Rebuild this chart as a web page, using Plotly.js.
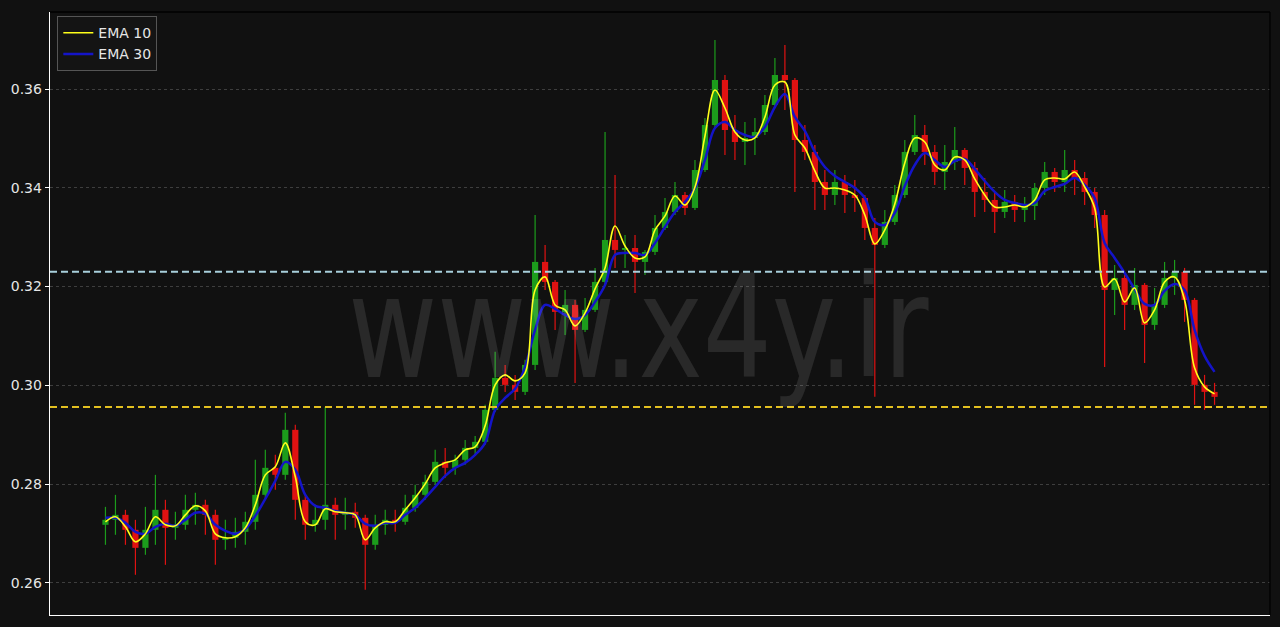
<!DOCTYPE html>
<html><head><meta charset="utf-8">
<script src="https://cdn.plot.ly/plotly-3.0.1.min.js"></script>
<style>html,body{margin:0;padding:0;background:#111111;} #chart{width:1280px;height:627px;}</style>
</head><body><div id="chart"></div>
<script>
const openP = [
0.27176,0.27277,0.27378,0.27075,0.26710,0.27075,0.27480,0.27115,0.27176,0.27480,
0.27581,0.27378,0.26872,0.26913,0.27034,0.27237,0.27783,0.28330,0.28188,0.29099,
0.27682,0.27176,0.27277,0.27581,0.27378,0.27439,0.27318,0.26771,0.27176,0.27277,
0.27237,0.27520,0.27783,0.28046,0.28451,0.28330,0.28492,0.28734,0.28856,0.29504,
0.30151,0.30010,0.29868,0.30414,0.32499,0.32094,0.31487,0.31629,0.31123,0.31528,
0.32094,0.32944,0.32742,0.32782,0.32499,0.32702,0.33187,0.33511,0.33855,0.33592,
0.34361,0.35272,0.36183,0.35171,0.34928,0.35009,0.35130,0.35677,0.36284,0.36183,
0.34968,0.34726,0.34118,0.33855,0.34118,0.33855,0.33794,0.33187,0.32843,0.33309,
0.33855,0.34726,0.35070,0.34726,0.34321,0.34523,0.34766,0.34402,0.33916,0.33754,
0.33511,0.33714,0.33552,0.33633,0.33997,0.34321,0.34118,0.34361,0.34199,0.33916,
0.33450,0.31932,0.32175,0.31629,0.32034,0.31224,0.31629,0.32175,0.32297,0.31730,
0.30010,0.29868];
const highP = [
0.27540,0.27783,0.27480,0.27277,0.27540,0.28188,0.27682,0.27439,0.27783,0.27824,
0.27682,0.27480,0.27277,0.27318,0.27439,0.28492,0.28694,0.28593,0.29443,0.29200,
0.27783,0.27581,0.29564,0.27722,0.27722,0.27621,0.27378,0.27378,0.27480,0.27480,
0.27783,0.27986,0.28188,0.28694,0.28734,0.28593,0.28896,0.28977,0.29605,0.30678,
0.30414,0.30212,0.30516,0.33450,0.32843,0.32135,0.31932,0.31730,0.31770,0.32378,
0.35130,0.34260,0.33046,0.33046,0.32742,0.33450,0.33794,0.34118,0.33916,0.34564,
0.35414,0.36992,0.36284,0.35474,0.35333,0.35414,0.35879,0.36628,0.36891,0.36223,
0.35272,0.34867,0.34361,0.34361,0.34260,0.34159,0.33855,0.33390,0.33552,0.34058,
0.34968,0.35474,0.35272,0.34867,0.34867,0.35232,0.34806,0.34523,0.34199,0.33896,
0.33956,0.33855,0.33815,0.34098,0.34523,0.34402,0.34766,0.34564,0.34321,0.33997,
0.33552,0.32438,0.32236,0.32378,0.32074,0.31973,0.32499,0.32540,0.32378,0.31770,
0.30212,0.30050];
const lowP = [
0.26771,0.26974,0.26771,0.26164,0.26569,0.26771,0.26366,0.26872,0.27075,0.27176,
0.26974,0.26366,0.26670,0.26710,0.26771,0.27075,0.27682,0.27884,0.28087,0.27277,
0.26872,0.27034,0.27075,0.26872,0.27075,0.27115,0.25860,0.26670,0.26974,0.27034,
0.27176,0.27439,0.27682,0.27986,0.28127,0.28188,0.28390,0.28593,0.28795,0.29463,
0.29868,0.29706,0.29807,0.30313,0.31932,0.31123,0.31022,0.30050,0.31082,0.31487,
0.32034,0.32378,0.32378,0.31872,0.32236,0.32641,0.33147,0.33450,0.33450,0.33552,
0.34321,0.35211,0.34665,0.34564,0.34462,0.34665,0.35070,0.35616,0.35576,0.33916,
0.34564,0.33552,0.33552,0.33653,0.33491,0.33511,0.32944,0.29767,0.32782,0.33248,
0.33794,0.34665,0.34462,0.34058,0.33956,0.34361,0.34058,0.33410,0.33511,0.33086,
0.33390,0.33309,0.33309,0.33349,0.33855,0.33916,0.33916,0.33855,0.33653,0.33187,
0.30374,0.31426,0.31123,0.31528,0.30455,0.31123,0.31568,0.31831,0.31285,0.29605,
0.29504,0.29605];
const closeP = [
0.27277,0.27378,0.27075,0.26710,0.27075,0.27480,0.27115,0.27176,0.27480,0.27581,
0.27378,0.26872,0.26913,0.27034,0.27237,0.27783,0.28330,0.28188,0.29099,0.27682,
0.27176,0.27277,0.27581,0.27378,0.27439,0.27318,0.26771,0.27176,0.27277,0.27237,
0.27520,0.27783,0.28046,0.28451,0.28330,0.28492,0.28734,0.28856,0.29504,0.30151,
0.30010,0.29868,0.30414,0.32499,0.32094,0.31487,0.31629,0.31123,0.31528,0.32094,
0.32944,0.32742,0.32782,0.32499,0.32702,0.33187,0.33511,0.33855,0.33592,0.34361,
0.35272,0.36183,0.35171,0.34928,0.35009,0.35130,0.35677,0.36284,0.36183,0.34968,
0.34726,0.34118,0.33855,0.34118,0.33855,0.33794,0.33187,0.32843,0.33309,0.33855,
0.34726,0.35070,0.34726,0.34321,0.34523,0.34766,0.34402,0.33916,0.33754,0.33511,
0.33714,0.33552,0.33633,0.33997,0.34321,0.34118,0.34361,0.34199,0.33916,0.33450,
0.31932,0.32175,0.31629,0.32034,0.31224,0.31629,0.32175,0.32297,0.31730,0.30010,
0.29868,0.29767];
const ema10 = [
0.27237,0.27338,0.27136,0.26832,0.26994,0.27338,0.27176,0.27156,0.27378,0.27561,
0.27459,0.26994,0.26913,0.26933,0.27115,0.27581,0.28188,0.28350,0.28836,0.28148,
0.27237,0.27176,0.27500,0.27439,0.27419,0.27378,0.26872,0.27115,0.27237,0.27237,
0.27480,0.27722,0.28006,0.28330,0.28431,0.28492,0.28694,0.28755,0.29180,0.30010,
0.30212,0.30091,0.30252,0.31932,0.32196,0.31629,0.31528,0.31204,0.31467,0.31953,
0.32378,0.33228,0.32823,0.32580,0.32600,0.33147,0.33430,0.33835,0.33653,0.34017,
0.35049,0.35980,0.35616,0.35130,0.34968,0.35009,0.35434,0.36082,0.36142,0.35070,
0.34806,0.34341,0.33997,0.33997,0.33956,0.33855,0.33450,0.32863,0.33147,0.33673,
0.34503,0.35009,0.34928,0.34462,0.34361,0.34624,0.34564,0.34179,0.33855,0.33612,
0.33612,0.33653,0.33612,0.33754,0.34159,0.34199,0.34179,0.34321,0.34017,0.33592,
0.31993,0.32155,0.31690,0.31973,0.31265,0.31528,0.32094,0.32196,0.31730,0.30354,
0.29969,0.29827];
const ema30 = [
0.27318,0.27318,0.27216,0.27034,0.26994,0.27136,0.27196,0.27156,0.27277,0.27419,
0.27399,0.27176,0.27055,0.26994,0.27095,0.27358,0.27702,0.28067,0.28451,0.28289,
0.27783,0.27561,0.27520,0.27459,0.27419,0.27378,0.27196,0.27156,0.27216,0.27216,
0.27378,0.27520,0.27722,0.27945,0.28168,0.28330,0.28431,0.28593,0.28836,0.29504,
0.29746,0.29929,0.30374,0.31123,0.31629,0.31548,0.31426,0.31345,0.31426,0.31690,
0.32034,0.32641,0.32681,0.32681,0.32641,0.32884,0.33208,0.33511,0.33714,0.33997,
0.34564,0.35211,0.35333,0.35171,0.35070,0.35029,0.35232,0.35636,0.35899,0.35434,
0.35151,0.34726,0.34422,0.34240,0.34118,0.33997,0.33794,0.33309,0.33248,0.33491,
0.34037,0.34462,0.34705,0.34564,0.34422,0.34543,0.34584,0.34381,0.34139,0.33916,
0.33754,0.33693,0.33653,0.33693,0.33936,0.34017,0.34078,0.34199,0.34058,0.33794,
0.32884,0.32580,0.32276,0.31953,0.31649,0.31629,0.31912,0.32054,0.31932,0.31123,
0.30597,0.30273];
const levelUpper = 0.3230;
const levelLower = 0.2956;
const yTicks = [0.26, 0.28, 0.30, 0.32, 0.34, 0.36];
const yTickLabels = ['0.26', '0.28', '0.30', '0.32', '0.34', '0.36'];
const watermark = 'www.x4y.ir';

const t = closeP.map((_, i) => i);
const isUp = t.map(i => closeP[i] >= openP[i]);
const upColor = '#1c9c1c', downColor = '#e01212';

function wicks(flag, color) {
  const x = [], y = [];
  t.forEach(i => { if (isUp[i] === flag) { x.push(i, i, null); y.push(lowP[i], highP[i], null); } });
  return {type: 'scatter', mode: 'lines', x: x, y: y, line: {color: color, width: 1.2},
          hoverinfo: 'skip', showlegend: false, connectgaps: false};
}
const bodies = {
  type: 'bar', x: t,
  base: t.map(i => Math.min(openP[i], closeP[i])),
  y: t.map(i => Math.max(Math.abs(closeP[i] - openP[i]), 0.00012)),
  width: 0.62,
  marker: {color: t.map(i => isUp[i] ? upColor : downColor), line: {width: 0}},
  hoverinfo: 'skip', showlegend: false
};
const e30 = {type: 'scatter', mode: 'lines', name: 'EMA 30', x: t, y: ema30,
  line: {color: '#1414c8', width: 2.5, shape: 'spline', smoothing: 1}, legendrank: 2};
const e10 = {type: 'scatter', mode: 'lines', name: 'EMA 10', x: t, y: ema10,
  line: {color: '#ffff1a', width: 1.6, shape: 'spline', smoothing: 1}, legendrank: 1};

const layout = {
  width: 1280, height: 627,
  margin: {l: 50, r: 10, t: 12, b: 12, pad: 0},
  paper_bgcolor: '#111111', plot_bgcolor: '#111111',
  font: {family: 'DejaVu Sans, sans-serif', size: 14, color: '#e6e6e6'},
  showlegend: true,
  legend: {x: 0.006, y: 0.993, xanchor: 'left', yanchor: 'top', bgcolor: '#141414',
           bordercolor: '#555555', borderwidth: 1, font: {size: 14, color: '#e6e6e6'}},
  xaxis: {range: [-5.55, 116.55], showgrid: false, zeroline: false, showticklabels: false,
          ticks: '', showline: true, linecolor: '#ffffff', linewidth: 1.3, fixedrange: true},
  yaxis: {range: [0.2535, 0.3756], tickvals: yTicks, ticktext: yTickLabels, ticks: 'outside',
          ticklen: 4, tickwidth: 1, tickcolor: '#ffffff', showline: true, linecolor: '#ffffff',
          linewidth: 1.3, showgrid: true, gridcolor: '#4a4a4a', griddash: 'dot', gridwidth: 0.8,
          zeroline: false, tickfont: {size: 14, color: '#e6e6e6'}, fixedrange: true},
  shapes: [
    {type: 'line', xref: 'paper', x0: 0, x1: 1, yref: 'y', y0: levelUpper, y1: levelUpper,
     line: {color: '#a8cfdc', width: 2, dash: '7px,4px'}},
    {type: 'line', xref: 'paper', x0: 0, x1: 1, yref: 'y', y0: levelLower, y1: levelLower,
     line: {color: '#e3c020', width: 2, dash: '7px,4px'}},
    {type: 'line', xref: 'paper', x0: 0, x1: 1, yref: 'paper', y0: 1, y1: 1, line: {color: '#000000', width: 1.3}},
    {type: 'line', xref: 'paper', x0: 1, x1: 1, yref: 'paper', y0: 0, y1: 1, line: {color: '#000000', width: 1.3}}
  ],
  annotations: [{text: watermark, xref: 'paper', yref: 'paper', x: 0.482, y: 0.476,
    xanchor: 'center', yanchor: 'middle', showarrow: false,
    font: {family: 'Liberation Sans Narrow, DejaVu Sans Condensed, Liberation Sans, sans-serif', size: 143,
           color: 'rgba(255,255,255,0.1)'}}]
};
Plotly.newPlot('chart', [bodies, wicks(true, upColor), wicks(false, downColor), e30, e10], layout,
  {displayModeBar: false, staticPlot: true}).then(gd => {
  const txt = gd.querySelector('.annotation-text');
  if (txt) {
    const bb = txt.getBBox();
    const cx = bb.x + bb.width / 2;
    txt.setAttribute('transform', 'translate(' + cx + ',0) scale(0.845,1) translate(' + (-cx) + ',0)');
  }
});
</script></body></html>
